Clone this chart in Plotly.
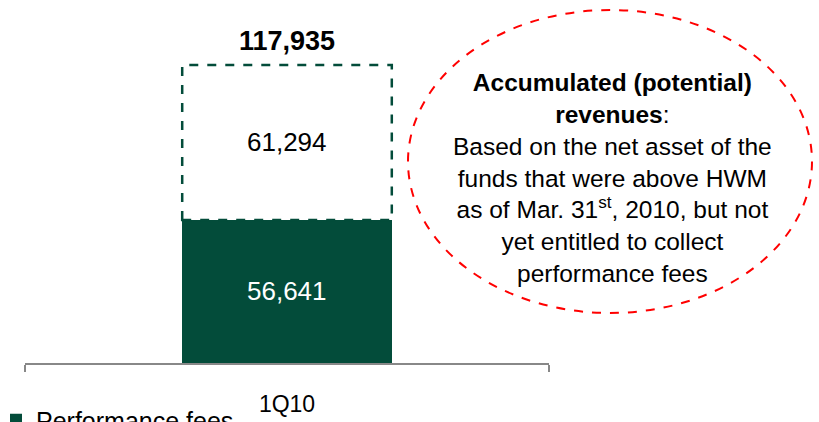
import plotly.graph_objects as go

quarters = ["1Q10"]
realized = [56641]
potential = [61294]
totals = [r + p for r, p in zip(realized, potential)]

green = "#034C3A"
font = "Liberation Sans, Arial, sans-serif"
bar_w = 0.4

fig = go.Figure()

fig.add_trace(go.Bar(x=quarters, y=realized, name="Performance fees",
                     width=bar_w, marker=dict(color=green, line=dict(width=0))))

fig.add_trace(go.Bar(x=quarters, y=potential, name="Potential",
                     width=bar_w, showlegend=False,
                     marker=dict(color="rgba(255,255,255,0)", line=dict(width=0))))

for i, (b, p, t) in enumerate(zip(realized, potential, totals)):
    # dashed outline around the potential part
    fig.add_shape(type="rect", xref="x", yref="y",
                  x0=i - bar_w / 2, x1=i + bar_w / 2, y0=b, y1=t,
                  line=dict(color=green, width=2.5, dash="dash"))
    # value labels
    fig.add_annotation(x=quarters[i], y=b / 2, text=f"{b:,}", showarrow=False,
                       font=dict(size=26, color="white", family=font))
    fig.add_annotation(x=quarters[i], y=b + p / 2, text=f"{p:,}", showarrow=False,
                       font=dict(size=26, color="black", family=font))
    fig.add_annotation(x=quarters[i], y=t, text=f"<b>{t:,}</b>", showarrow=False,
                       yanchor="bottom", yshift=7,
                       font=dict(size=27, color="black", family=font))

# red dashed bubble with the note
fig.add_shape(type="circle", xref="paper", yref="paper",
              x0=408 / 819, x1=812 / 819, y0=1 - 313 / 422, y1=1 - 10 / 422,
              line=dict(color="#FF0000", width=2, dash="dash"))

note = ("<b>Accumulated (potential)<br>revenues</b>:<br>"
        "Based on the net asset of the<br>"
        "funds that were above HWM<br>"
        "as of Mar. 31<sup>st</sup>, 2010, but not<br>"
        "yet entitled to collect<br>"
        "performance fees")
fig.add_annotation(x=612 / 819, y=1 - 178 / 422, xref="paper", yref="paper",
                   text=note, showarrow=False, align="center",
                   xanchor="center", yanchor="middle",
                   font=dict(size=24.5, color="black", family=font))

fig.update_layout(
    width=819, height=422,
    barmode="stack",
    plot_bgcolor="white", paper_bgcolor="white",
    margin=dict(l=0, r=0, t=0, b=0, autoexpand=False),
    font=dict(family=font, color="black"),
    showlegend=True,
    legend=dict(x=-4 / 819, y=1 - 397 / 422, xanchor="left", yanchor="top",
                font=dict(size=25, family=font), bgcolor="rgba(0,0,0,0)"),
    xaxis=dict(domain=[25 / 819, 549 / 819], range=[-0.5, 0.5],
               showline=True, linecolor="#888888", linewidth=2,
               ticks="outside", tickson="boundaries", ticklen=7,
               tickcolor="#888888", tickwidth=2, ticklabelstandoff=19,
               tickfont=dict(size=23, family=font, color="black"),
               showgrid=False, zeroline=False),
    yaxis=dict(domain=[1 - 363 / 422, 1], range=[0, 143660], visible=False,
               showgrid=False, zeroline=False),
)

fig.write_html("out.html", config={"displayModeBar": False},
               post_script="document.body.style.margin='0';"
                           "document.body.style.overflow='hidden';")
